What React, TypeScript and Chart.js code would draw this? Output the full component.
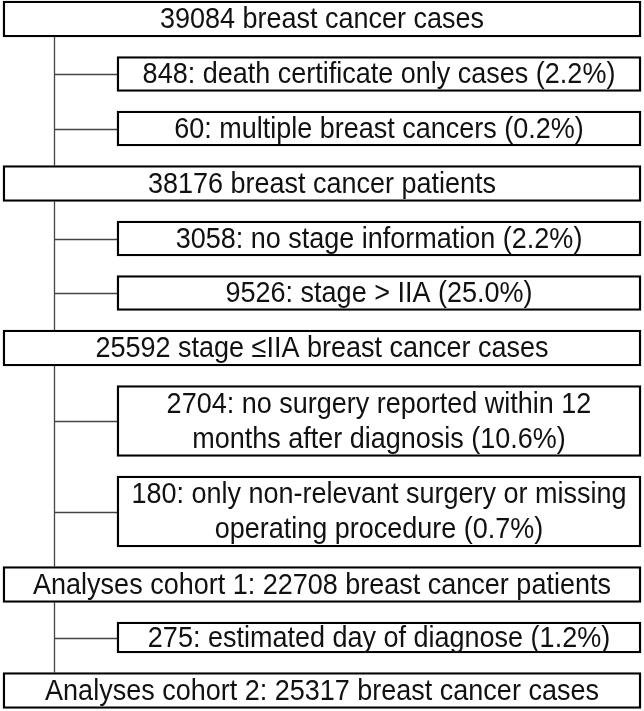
import React, { useEffect, useRef } from "react";
import { Chart, registerables } from "chart.js";

Chart.register(...registerables);

// ---------- DATA ----------
const stepLabels: string[] = [
  "39084 breast cancer cases",
  "38176 breast cancer patients",
  "25592 stage \u2264IIA breast cancer cases",
  "Analyses cohort 1: 22708 breast cancer patients",
  "Analyses cohort 2: 25317 breast cancer cases",
];
const stepCounts: number[] = [39084, 38176, 25592, 22708, 25317];

const exclusionLabels: string[][] = [
  ["848: death certificate only cases (2.2%)"],
  ["60: multiple breast cancers (0.2%)"],
  ["3058: no stage information (2.2%)"],
  ["9526: stage > IIA (25.0%)"],
  ["2704: no surgery reported within 12", "months after diagnosis (10.6%)"],
  ["180: only non-relevant surgery or missing", "operating procedure (0.7%)"],
  ["275: estimated day of diagnose (1.2%)"],
];
const exclusionCounts: number[] = [848, 60, 3058, 9526, 2704, 180, 275];
const exclusionAfterStep: number[] = [0, 0, 1, 1, 2, 2, 3];

// ---------- LAYOUT (layout units on hidden linear scales) ----------
const W = 644;
const H = 711;
const MAIN_SPAN = [3, 641];
const EXCL_SPAN = [117, 641];
const TRUNK_X = 54;
const MAIN_H = 36;
const EXCL_H = 35;
const EXTRA_LINE_H = 36;
const COMPACT_H = 31;
const COMPACT_ROWS = [6];
const GAP = 19.5;
const TOP = 1;
const LINE_SPACING = 35;
const FONT = '27px "Liberation Sans", Arial, sans-serif';
const TEXT_SX = 1.0;
const TEXT_SY = 1.1;
const INK = "#000000";
const CONNECTOR = "#444444";

type Row = { kind: "main" | "excl"; idx: number; lines: string[]; count: number; h: number; center: number; span: number[] };

function buildRows(): Row[] {
  const rows: Row[] = [];
  let top = TOP;
  stepLabels.forEach((lbl, i) => {
    const h = MAIN_H;
    rows.push({ kind: "main", idx: i, lines: [lbl], count: stepCounts[i], h, center: top + h / 2, span: MAIN_SPAN });
    top += h + GAP;
    exclusionAfterStep.forEach((s, j) => {
      if (s !== i) return;
      const lines = exclusionLabels[j];
      let eh = EXCL_H + (lines.length - 1) * EXTRA_LINE_H;
      if (COMPACT_ROWS.includes(j)) eh = COMPACT_H;
      rows.push({ kind: "excl", idx: j, lines, count: exclusionCounts[j], h: eh, center: top + eh / 2, span: EXCL_SPAN });
      top += eh + GAP;
    });
  });
  return rows;
}

export default function App() {
  const ref = useRef<HTMLCanvasElement | null>(null);

  useEffect(() => {
    const canvas = ref.current;
    if (!canvas) return;
    const rows = buildRows();

    const flowPlugin = {
      id: "flowDecor",
      beforeDatasetsDraw(chart: any) {
        const ctx = chart.ctx;
        const xs = chart.scales.x;
        const ys = chart.scales.y;
        const tx = Math.round(xs.getPixelForValue(TRUNK_X)) + 0.5;
        ctx.save();
        ctx.strokeStyle = CONNECTOR;
        ctx.lineWidth = 1.3;
        const mains = rows.filter((r) => r.kind === "main");
        for (let i = 0; i < mains.length - 1; i++) {
          const a = mains[i];
          const b = mains[i + 1];
          ctx.beginPath();
          ctx.moveTo(tx, ys.getPixelForValue(a.center + a.h / 2));
          ctx.lineTo(tx, ys.getPixelForValue(b.center - b.h / 2));
          ctx.stroke();
        }
        rows
          .filter((r) => r.kind === "excl")
          .forEach((r) => {
            const y = Math.round(ys.getPixelForValue(r.center)) + 0.5;
            ctx.beginPath();
            ctx.moveTo(tx, y);
            ctx.lineTo(xs.getPixelForValue(r.span[0]), y);
            ctx.stroke();
          });
        ctx.restore();
      },
      afterDatasetsDraw(chart: any) {
        const ctx = chart.ctx;
        rows.forEach((r, di) => {
          const el = chart.getDatasetMeta(di).data[0];
          if (!el) return;
          const cx = (el.x + el.base) / 2;
          const n = r.lines.length;
          r.lines.forEach((t, k) => {
            const cy = el.y + 1 + (k - (n - 1) / 2) * LINE_SPACING;
            ctx.save();
            ctx.translate(cx, cy);
            ctx.scale(TEXT_SX, TEXT_SY);
            ctx.fillStyle = "#111111";
            ctx.font = FONT;
            ctx.textAlign = "center";
            ctx.textBaseline = "middle";
            ctx.fillText(t, 0, 0);
            ctx.restore();
          });
        });
      },
    };

    const chart = new Chart(canvas, {
      type: "bar",
      data: {
        datasets: rows.map((r) => ({
          label: r.lines.join(" "),
          data: [{ x: [r.span[0], r.span[1]], y: r.center }] as any,
          barThickness: r.h,
          backgroundColor: "#ffffff",
          borderColor: INK,
          borderWidth: 2.4,
          borderSkipped: false,
          stack: "flow",
        })),
      },
      options: {
        indexAxis: "y",
        animation: false,
        responsive: false,
        devicePixelRatio: 1,
        events: [],
        layout: { padding: 0 },
        plugins: { legend: { display: false }, tooltip: { enabled: false } },
        scales: {
          x: { type: "linear", min: 0, max: W, display: false, stacked: false, offset: false },
          y: { type: "linear", min: 0, max: H, reverse: true, display: false, offset: false, grid: { offset: false } },
        },
      },
      plugins: [flowPlugin],
    } as any);

    return () => chart.destroy();
  }, []);

  return (
    <div style={{ position: "absolute", left: 0, top: 0, width: W, height: H, background: "#ffffff" }}>
      <canvas ref={ref} width={W} height={H} style={{ display: "block" }} />
    </div>
  );
}
